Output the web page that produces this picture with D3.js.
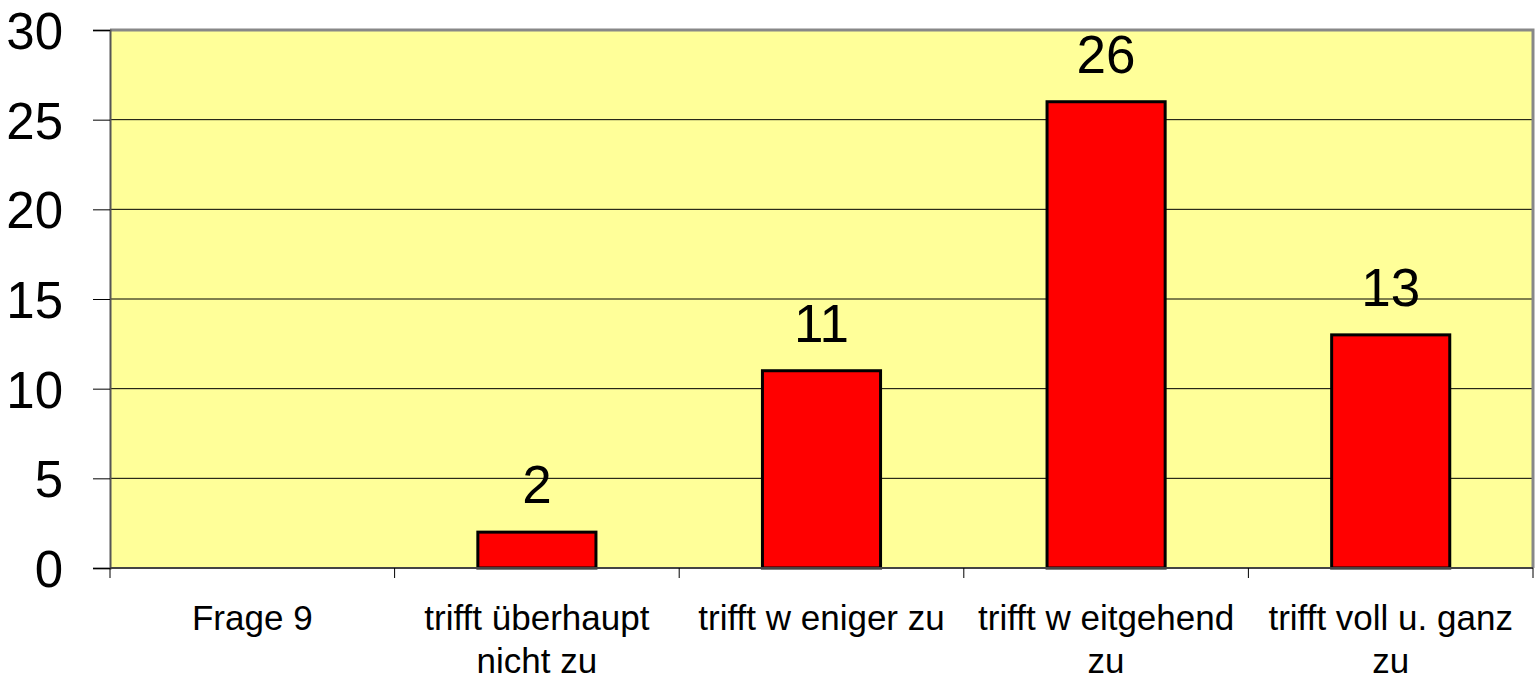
<!DOCTYPE html>
<html>
<head>
<meta charset="utf-8">
<script src="https://cdn.jsdelivr.net/npm/d3@7"></script>
<style>
body { margin: 0; background: #fff; }
text { font-family: "Liberation Sans", Arial, sans-serif; fill: #000; }
</style>
</head>
<body>
<div id="display-container"></div>
<script>
var categories = ["Frage 9", "trifft überhaupt nicht zu", "trifft w eniger zu", "trifft w eitgehend zu", "trifft voll u. ganz zu"];
var values = [null, 2, 11, 26, 13];
var yTicks = [0, 5, 10, 15, 20, 25, 30];

var width = 1540;
var height = 681;
var margin = {top: 30, right: 7, bottom: 113, left: 110};
var innerW = width - margin.left - margin.right;
var innerH = height - margin.top - margin.bottom;

var svg = d3.select("#display-container").append("svg")
    .attr("width", width)
    .attr("height", height);

var g = svg.append("g")
    .attr("transform", "translate(" + margin.left + "," + margin.top + ")");

var x = d3.scaleBand().domain(categories).range([0, innerW]).paddingInner(0).paddingOuter(0);
var y = d3.scaleLinear().domain([0, 30]).range([innerH, 0]);

// plot background
g.append("rect")
    .attr("width", innerW)
    .attr("height", innerH)
    .attr("fill", "#ffff99");

// gridlines
g.selectAll(".grid")
    .data(yTicks.filter(function(d){ return d > 0 && d < 30; }))
    .enter().append("line")
    .attr("x1", 0).attr("x2", innerW)
    .attr("y1", function(d){ return y(d); })
    .attr("y2", function(d){ return y(d); })
    .attr("stroke", "#000")
    .attr("stroke-width", 1);

// border top and right (gray)
g.append("path")
    .attr("d", "M0," + 0 + "H" + innerW + "V" + innerH)
    .attr("fill", "none")
    .attr("stroke", "#888")
    .attr("stroke-width", 3);

// bars
var barW = x.bandwidth() * 0.415;
var barData = categories.map(function(c, i){ return {cat: c, v: values[i]}; })
    .filter(function(d){ return d.v != null; });

g.selectAll(".bar")
    .data(barData)
    .enter().append("rect")
    .attr("class", "bar")
    .attr("x", function(d){ return x(d.cat) + (x.bandwidth() - barW) / 2; })
    .attr("y", function(d){ return y(d.v); })
    .attr("width", barW)
    .attr("height", function(d){ return y(0) - y(d.v); })
    .attr("fill", "#ff0000")
    .attr("stroke", "#000")
    .attr("stroke-width", 3);

// value labels
g.selectAll(".val")
    .data(barData)
    .enter().append("text")
    .attr("x", function(d){ return x(d.cat) + x.bandwidth() / 2; })
    .attr("y", function(d){ return y(d.v) - 29; })
    .attr("text-anchor", "middle")
    .style("font-size", "53px")
    .text(function(d){ return d.v; });

// y axis
var yAxis = g.append("g")
    .call(d3.axisLeft(y).tickValues(yTicks).tickSize(17).tickPadding(30));
yAxis.select(".domain").attr("stroke", "#555").attr("stroke-width", 2);
yAxis.selectAll(".tick line").attr("stroke", "#000");
yAxis.selectAll("text").style("font-size", "51px").attr("dy", "0.36em");

// x axis
var xAxis = g.append("g")
    .attr("transform", "translate(0," + innerH + ")");
xAxis.append("line")
    .attr("x1", 0).attr("x2", innerW)
    .attr("stroke", "#444").attr("stroke-width", 2);
var bounds = categories.map(function(c){ return x(c); }).concat([innerW]);
xAxis.selectAll(".xtick")
    .data(bounds)
    .enter().append("line")
    .attr("x1", function(d){ return d; }).attr("x2", function(d){ return d; })
    .attr("y1", 0).attr("y2", 10)
    .attr("stroke", "#000");

var labels = xAxis.selectAll(".xlab")
    .data(categories)
    .enter().append("text")
    .attr("x", function(d){ return x(d) + x.bandwidth() / 2; })
    .attr("y", 62)
    .attr("text-anchor", "middle")
    .style("font-size", "35px")
    .text(function(d){ return d; });

labels.call(wrap, x.bandwidth() - 10);

function wrap(sel, w) {
    sel.each(function(){
        var text = d3.select(this);
        var words = text.text().split(/\s+/);
        var cx = text.attr("x");
        var y0 = text.attr("y");
        text.text(null);
        var line = [];
        var lineNo = 0;
        var tspan = text.append("tspan").attr("x", cx).attr("y", y0);
        words.forEach(function(word){
            line.push(word);
            tspan.text(line.join(" "));
            if (tspan.node().getComputedTextLength() > w && line.length > 1) {
                line.pop();
                tspan.text(line.join(" "));
                line = [word];
                lineNo++;
                tspan = text.append("tspan").attr("x", cx).attr("y", +y0 + lineNo * 43).text(word);
            }
        });
    });
}
</script>
</body>
</html>
